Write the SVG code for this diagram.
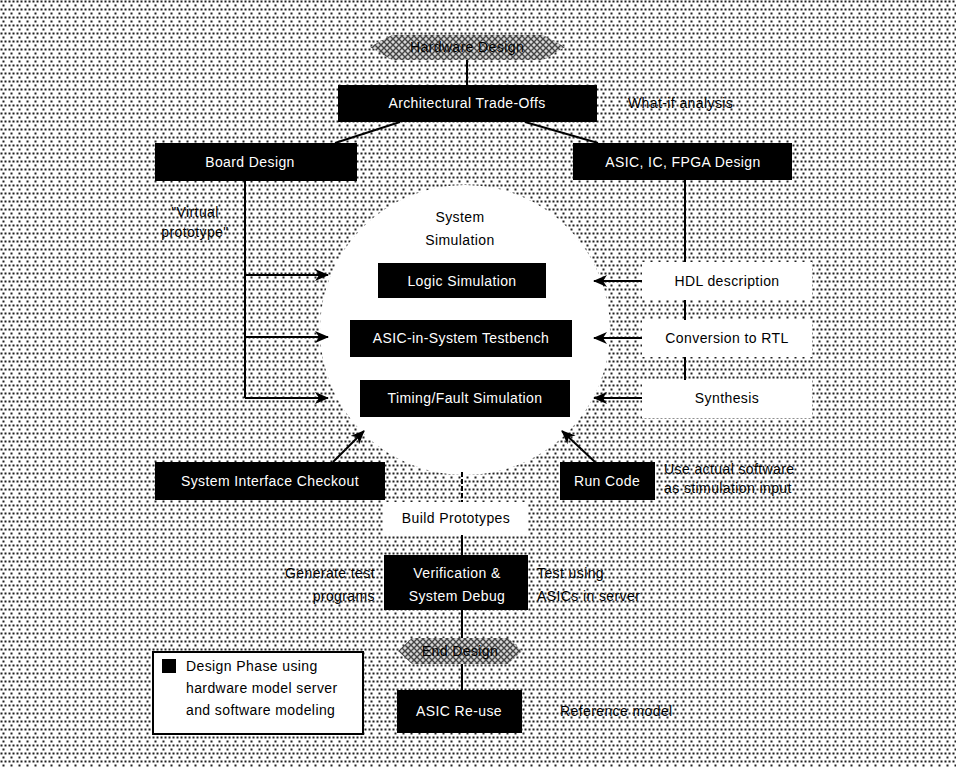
<svg xmlns="http://www.w3.org/2000/svg" width="956" height="767" viewBox="0 0 956 767">
<defs>
<pattern id="dots" width="8" height="8" patternUnits="userSpaceOnUse">
<rect width="8" height="8" fill="#ffffff"/>
<rect x="0.5" y="0.5" width="2" height="2" fill="#222"/>
<rect x="4.5" y="0.5" width="2" height="2" fill="#222"/>
<rect x="2.5" y="4.5" width="2" height="2" fill="#222"/>
</pattern>
<pattern id="hatch" width="6" height="6" patternUnits="userSpaceOnUse">
<rect width="6" height="6" fill="#d8d8d8"/>
<path d="M0,0 L6,6 M6,0 L0,6" stroke="#444" stroke-width="1.4"/>
</pattern>
<marker id="arr" viewBox="0 0 14 12" refX="13" refY="6" markerWidth="14" markerHeight="12" markerUnits="userSpaceOnUse" orient="auto">
<path d="M0,0 L14,6 L0,12 L4,6 Z" fill="#000"/>
</marker>
<style>
.box{fill:#000}
.wbox{fill:#fff}
.wt{font-family:"Liberation Sans",Arial,sans-serif;font-size:14px;fill:#fff;text-anchor:middle;letter-spacing:0.4px}
.bt{font-family:"Liberation Sans",Arial,sans-serif;font-size:14px;fill:#000;text-anchor:middle;letter-spacing:0.4px}
.lt{font-family:"Liberation Sans",Arial,sans-serif;font-size:14px;fill:#000;letter-spacing:0.4px}
.rt{font-family:"Liberation Sans",Arial,sans-serif;font-size:14px;fill:#000;text-anchor:end;letter-spacing:0.4px}
.ln{stroke:#000;stroke-width:2;fill:none}
</style>
</defs>
<rect id="background" x="0" y="0" width="956" height="767" fill="url(#dots)"/>
<circle id="sim-area" cx="465" cy="330" r="145" fill="#fff"/>

<g id="connectors">
<line class="ln" x1="467" y1="60" x2="467" y2="85"/>
<polyline class="ln" points="400,122 335,143"/>
<polyline class="ln" points="525,122 598,143"/>
<line class="ln" x1="245" y1="180" x2="245" y2="398"/>
<line class="ln" x1="245" y1="275" x2="328" y2="275" marker-end="url(#arr)"/>
<line class="ln" x1="245" y1="337" x2="328" y2="337" marker-end="url(#arr)"/>
<line class="ln" x1="245" y1="398" x2="328" y2="398" marker-end="url(#arr)"/>
<line class="ln" x1="685" y1="180" x2="685" y2="262"/>
<line class="ln" x1="685" y1="300" x2="685" y2="320"/>
<line class="ln" x1="685" y1="357" x2="685" y2="380"/>
<line class="ln" x1="642" y1="281" x2="594" y2="281" marker-end="url(#arr)"/>
<line class="ln" x1="642" y1="338" x2="594" y2="338" marker-end="url(#arr)"/>
<line class="ln" x1="642" y1="398" x2="594" y2="398" marker-end="url(#arr)"/>
<line class="ln" x1="333" y1="462" x2="364" y2="431" marker-end="url(#arr)"/>
<line class="ln" x1="595" y1="462" x2="562" y2="431" marker-end="url(#arr)"/>
<line class="ln" x1="462" y1="472" x2="462" y2="502" stroke-dasharray="5,2"/>
<line class="ln" x1="462" y1="535" x2="462" y2="555"/>
<line class="ln" x1="462" y1="610" x2="462" y2="638"/>
<line class="ln" x1="462" y1="664" x2="462" y2="690"/>
</g>

<g id="hardware-design">
<polygon points="370,47 392,35 543,35 565,47 543,60 392,60" fill="url(#hatch)"/>
<text class="bt" x="467" y="52">Hardware Design</text>
</g>
<g id="arch-tradeoffs">
<rect class="box" x="338" y="85" width="259" height="37"/>
<text class="wt" x="467" y="108">Architectural Trade-Offs</text>
</g>
<g id="what-if">
<text class="lt" x="628" y="108">What-if analysis</text>
</g>
<g id="board-design">
<rect class="box" x="155" y="143" width="202" height="38"/>
<text class="wt" x="250" y="167">Board Design</text>
</g>
<g id="asic-design">
<rect class="box" x="573" y="143" width="219" height="37"/>
<text class="wt" x="683" y="167">ASIC, IC, FPGA Design</text>
</g>
<g id="virtual-prototype">
<text class="bt" x="195" y="217">"Virtual</text>
<text class="bt" x="195" y="237">prototype"</text>
</g>
<g id="system-simulation">
<text class="bt" x="460" y="222">System</text>
<text class="bt" x="460" y="245">Simulation</text>
</g>
<g id="logic-sim">
<rect class="box" x="378" y="263" width="168" height="35"/>
<text class="wt" x="462" y="286">Logic Simulation</text>
</g>
<g id="asic-in-system">
<rect class="box" x="350" y="320" width="222" height="37"/>
<text class="wt" x="461" y="343">ASIC-in-System Testbench</text>
</g>
<g id="timing-fault">
<rect class="box" x="360" y="380" width="210" height="37"/>
<text class="wt" x="465" y="403">Timing/Fault Simulation</text>
</g>
<g id="hdl">
<rect class="wbox" x="642" y="262" width="170" height="38"/>
<text class="bt" x="727" y="286">HDL description</text>
</g>
<g id="rtl">
<rect class="wbox" x="642" y="320" width="170" height="37"/>
<text class="bt" x="727" y="343">Conversion to RTL</text>
</g>
<g id="synthesis">
<rect class="wbox" x="642" y="380" width="170" height="38"/>
<text class="bt" x="727" y="403">Synthesis</text>
</g>
<g id="interface-checkout">
<rect class="box" x="155" y="462" width="230" height="38"/>
<text class="wt" x="270" y="486">System Interface Checkout</text>
</g>
<g id="run-code">
<rect class="box" x="560" y="462" width="95" height="38"/>
<text class="wt" x="607" y="486">Run Code</text>
</g>
<g id="actual-software">
<text class="lt" x="664" y="474">Use actual software</text>
<text class="lt" x="664" y="493">as stimulation input</text>
</g>
<g id="build-prototypes">
<rect class="wbox" x="384" y="502" width="144" height="33"/>
<text class="bt" x="456" y="523">Build Prototypes</text>
</g>
<g id="verification">
<rect class="box" x="384" y="555" width="144" height="55"/>
<text class="wt" x="457" y="578">Verification &amp;</text>
<text class="wt" x="457" y="601">System Debug</text>
</g>
<g id="generate-test">
<text class="rt" x="375" y="578">Generate test</text>
<text class="rt" x="375" y="601">programs</text>
</g>
<g id="test-using">
<text class="lt" x="537" y="578">Test using</text>
<text class="lt" x="537" y="601">ASICs in server</text>
</g>
<g id="end-design">
<polygon points="398,651 412,638 508,638 522,651 508,664 412,664" fill="url(#hatch)"/>
<text class="bt" x="460" y="656">End Design</text>
</g>
<g id="asic-reuse">
<rect class="box" x="397" y="690" width="125" height="43"/>
<text class="wt" x="459" y="716">ASIC Re-use</text>
</g>
<g id="reference-model">
<text class="lt" x="560" y="716">Reference model</text>
</g>
<g id="legend">
<rect x="153" y="652" width="210" height="82" fill="#fff" stroke="#000" stroke-width="2"/>
<rect x="162" y="659" width="14" height="14" fill="#000"/>
<text class="lt" x="186" y="671">Design Phase using</text>
<text class="lt" x="186" y="693">hardware model server</text>
<text class="lt" x="186" y="715">and software modeling</text>
</g>
</svg>
